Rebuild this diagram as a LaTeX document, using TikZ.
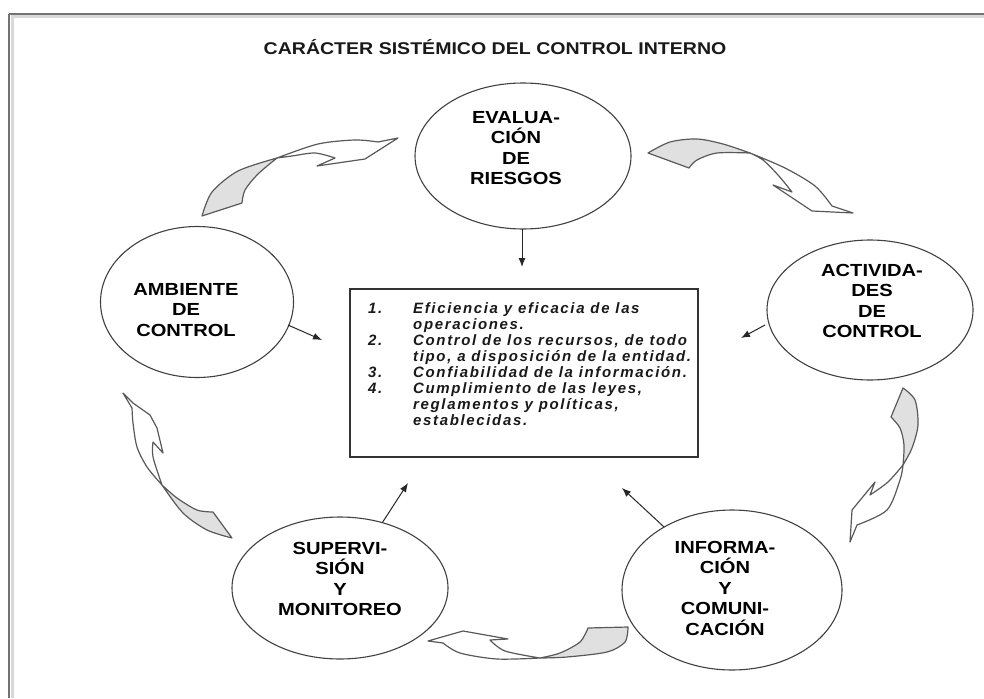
\documentclass[tikz,border=0pt]{standalone}
\usepackage{fontspec}
\setmainfont{Liberation Sans}[FakeStretch=1.15]
\newfontfamily\boxfont{Liberation Sans}[LetterSpace=11]
\usetikzlibrary{arrows.meta,shapes.geometric}
\begin{document}
\begin{tikzpicture}[x=1pt,y=-1pt,
  ell/.style={ellipse, draw=black!75, line width=1.1pt, inner sep=0pt},
  etext/.style={font=\bfseries\fontsize{17.5}{20.5}\selectfont, align=center, text=black},
  ptr/.style={-{Latex[length=9pt,width=7pt]}, line width=1pt, draw=black!85},
  front/.style={draw=black!65, line width=1.2pt, fill=white, line join=round},
  tail/.style={draw=black!65, line width=1.2pt, fill=black!12, line join=round},
  btext/.style={font=\boxfont\bfseries\itshape\fontsize{15}{16.5}\selectfont, anchor=base west, inner sep=0pt, text=black!90},
]
\useasboundingbox (0,0) rectangle (984,698);
% frame
\draw[black!15, line width=3pt] (11,17) -- (984,17);
\draw[black!15, line width=3pt] (12,17) -- (12,698);
\draw[black!55, line width=1.4pt] (9,14) -- (984,14);
\draw[black!55, line width=1.4pt] (9,14) -- (9,698);

\node[font=\bfseries\fontsize{17}{20}\selectfont, text=black!90] (title) at (495,47) {CARÁCTER SISTÉMICO DEL CONTROL INTERNO};

% ellipses
\node[ell, minimum width=216, minimum height=146] (eval) at (523,156) {};
\node[etext] (evalt) at (516,148) {EVALUA-\\CIÓN\\DE\\RIESGOS};
\node[ell, minimum width=193, minimum height=151] (amb) at (197,302) {};
\node[etext] (ambt) at (186,310) {AMBIENTE\\DE\\CONTROL};
\node[ell, minimum width=206, minimum height=140] (act) at (870,310) {};
\node[etext] (actt) at (872,301) {ACTIVIDA-\\DES\\DE\\CONTROL};
\node[ell, minimum width=216, minimum height=142] (sup) at (340,588) {};
\node[etext] (supt) at (340,579) {SUPERVI-\\SIÓN\\Y\\MONITOREO};
\node[ell, minimum width=220, minimum height=160] (inf) at (732,590) {};
\node[etext] (inft) at (725,588) {INFORMA-\\CIÓN\\Y\\COMUNI-\\CACIÓN};

% central box
\node[draw=black!80, line width=1.2pt, minimum width=348, minimum height=168, inner sep=0pt] (box) at (524,373) {};
\node[btext] (n1) at (368,313) {1.};
\node[btext] (l1) at (413,313) {Eficiencia y eficacia de las};
\node[btext] (l2) at (413,329) {operaciones.};
\node[btext] (n2) at (368,345) {2.};
\node[btext] (l3) at (413,345) {Control de los recursos, de todo};
\node[btext] (l4) at (413,361) {tipo, a disposición de la entidad.};
\node[btext] (n3) at (368,377) {3.};
\node[btext] (l5) at (413,377) {Confiabilidad de la información.};
\node[btext] (n4) at (368,393) {4.};
\node[btext] (l6) at (413,393) {Cumplimiento de las leyes,};
\node[btext] (l7) at (413,409) {reglamentos y políticas,};
\node[btext] (l8) at (413,425) {establecidas.};

% small pointers
\coordinate (s1) at (522,229);
\coordinate (t1) at (522,267);
\coordinate (s2) at (288,325);
\coordinate (t2) at (322,340);
\coordinate (s3) at (765,325);
\coordinate (t3) at (741,338);
\coordinate (t4) at (408,483);
\coordinate (t5) at (622,488);
\draw[ptr] (s1) -- (t1);
\draw[ptr] (s2) -- (t2);
\draw[ptr] (s3) -- (t3);
\draw[ptr] (sup) -- (t4);
\draw[ptr] (inf) -- (t5);

% top-left curved arrow
\filldraw[tail] (202,216) -- plot[smooth] coordinates {(202,216) (212,192) (238,171) (277,158)}
  -- plot[smooth] coordinates {(277,158) (258,174) (245,190) (242,203)} -- cycle;
\filldraw[front] (277,158) -- plot[smooth] coordinates {(277,158) (318,144) (355,140) (378,142)}
  -- (398,138) -- (365,159) -- (317,166) -- (335,158)
  -- plot[smooth] coordinates {(335,158) (315,153) (292,156) (277,158)} -- cycle;

% top-right curved arrow
\filldraw[tail] (648,153) -- plot[smooth] coordinates {(648,153) (670,142) (697,139) (723,144) (750,153)}
  -- plot[smooth] coordinates {(750,153) (717,153) (697,160) (689,168)} -- cycle;
\filldraw[front] (750,153) -- plot[smooth] coordinates {(750,153) (785,168) (815,186) (832,206)}
  -- (853,213) -- (812,211) -- (773,185) -- (792,192)
  -- plot[smooth] coordinates {(792,192) (778,175) (763,160) (750,153)} -- cycle;

% right curved arrow
\filldraw[tail] (903,388) -- plot[smooth] coordinates {(903,388) (915,400) (918,425) (912,448) (903,465)}
  -- plot[smooth] coordinates {(903,465) (904,445) (900,428) (891,417)} -- cycle;
\filldraw[front] (903,465) -- plot[smooth] coordinates {(903,465) (900,480) (887,510) (857,525)}
  -- (850,542) -- (852,510) -- (875,482) -- (870,495)
  -- plot[smooth] coordinates {(870,495) (888,482) (903,465)} -- cycle;

% bottom curved arrow
\filldraw[tail] (588,628) -- plot[smooth] coordinates {(588,628) (580,642) (560,653) (540,658)}
  -- plot[smooth] coordinates {(540,658) (567,657) (607,652) (625,642) (628,627)} -- cycle;
\filldraw[front] (540,658) -- plot[smooth] coordinates {(540,658) (497,659) (460,653) (443,643)}
  -- (428,641) -- (463,631) -- (508,639) -- (490,640)
  -- plot[smooth] coordinates {(490,640) (505,651) (540,658)} -- cycle;

% left curved arrow
\filldraw[tail] (213,512) -- plot[smooth] coordinates {(213,512) (197,510) (177,498) (162,485)}
  -- plot[smooth] coordinates {(162,485) (183,513) (207,530) (232,538)} -- cycle;
\filldraw[front] (162,485) -- plot[smooth] coordinates {(162,485) (147,467) (137,447) (133,423) (132,408)}
  -- (123,393) -- (133,403) -- (150,415) -- (157,428) -- (163,453) -- (153,442)
  -- plot[smooth] coordinates {(153,442) (153,457) (162,485)} -- cycle;
\end{tikzpicture}
\end{document}
